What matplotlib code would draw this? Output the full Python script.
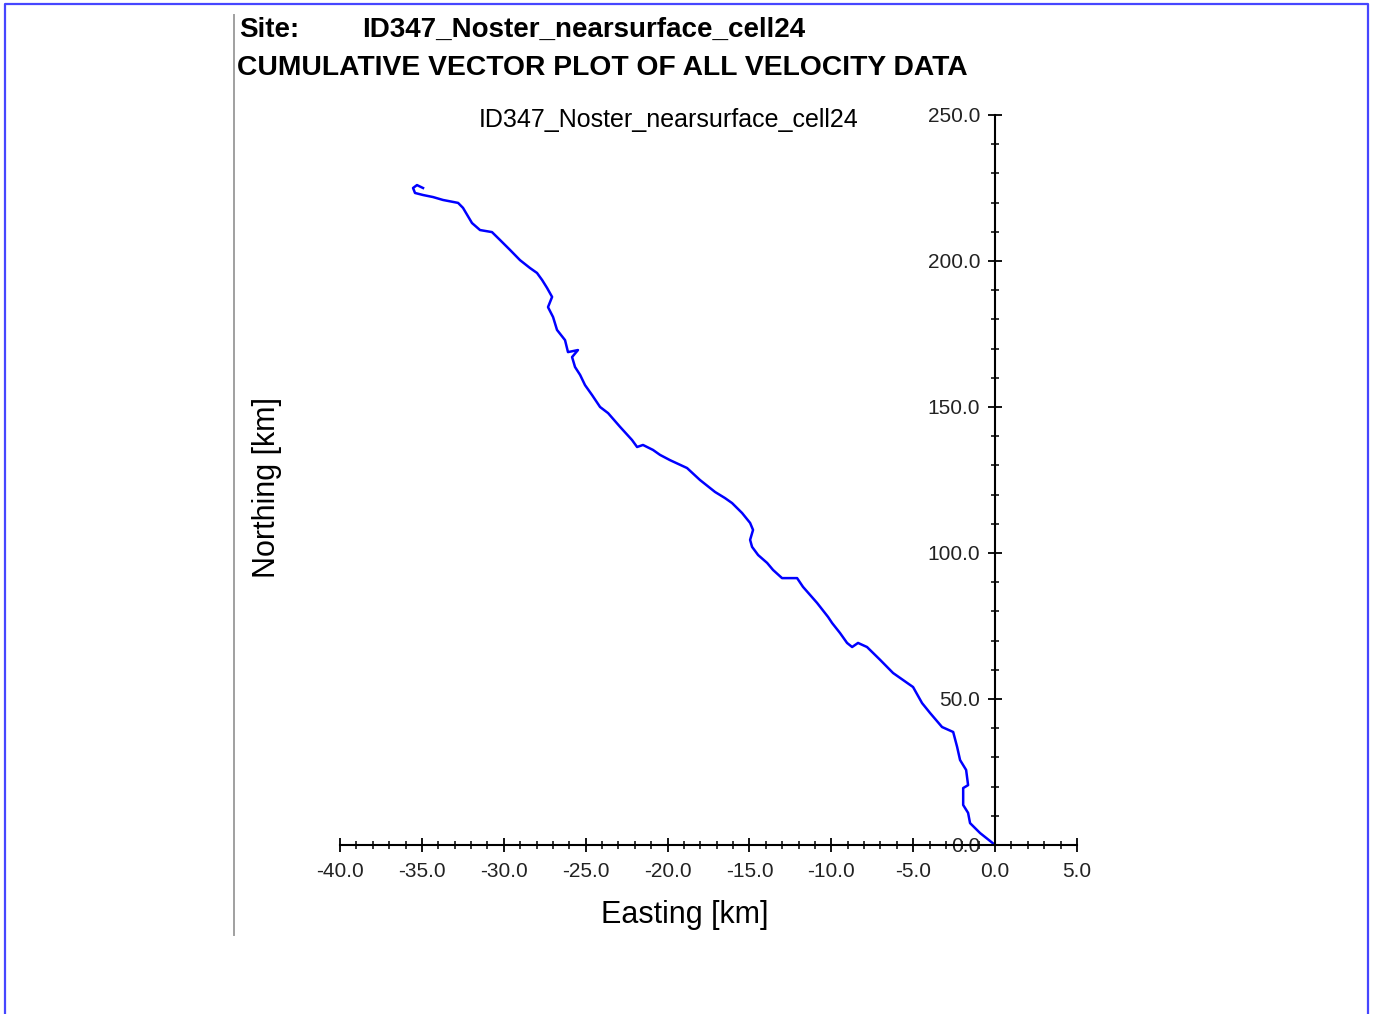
import matplotlib
matplotlib.use("Agg")
import matplotlib.pyplot as plt
from matplotlib.lines import Line2D
from matplotlib.ticker import MultipleLocator, FormatStrFormatter

plt.rcParams['font.family'] = ['Liberation Sans', 'DejaVu Sans']

site_name = "ID347_Noster_nearsurface_cell24"
plot_title = "CUMULATIVE VECTOR PLOT OF ALL VELOCITY DATA"

# cumulative displacement path (km)
east_km = [0.0, -0.92, -1.53, -1.65, -1.95, -1.95, -1.65, -1.77, -2.14, -2.32,
           -2.56, -3.24, -3.97, -4.46, -5.01, -6.23, -7.02, -7.82, -8.37, -8.73,
           -9.04, -9.47, -9.95, -10.20, -10.87, -11.73, -12.09, -12.64, -13.01, -13.56,
           -13.92, -14.47, -14.84, -14.96, -14.78, -14.96, -15.45, -16.06, -16.49, -17.10,
           -18.02, -18.81, -19.85, -20.46, -20.89, -21.50, -21.86, -22.17, -22.90, -23.63,
           -24.12, -24.61, -25.04, -25.34, -25.65, -25.83, -25.47, -26.08, -26.26, -26.75,
           -26.99, -27.30, -27.05, -27.36, -27.66, -27.97, -28.40, -29.01, -29.62, -30.23,
           -30.72, -31.45, -31.94, -32.49, -32.79, -33.71, -34.32, -34.93, -35.42, -35.54,
           -35.30, -34.93]
north_km = [0.0, 4.1, 7.5, 11.0, 13.7, 19.5, 20.5, 25.7, 29.1, 33.6,
            38.7, 40.4, 45.2, 48.6, 54.1, 58.9, 63.4, 67.8, 69.2, 67.8,
            69.2, 72.6, 76.0, 78.1, 82.9, 88.4, 91.4, 91.4, 91.4, 94.2,
            96.6, 99.3, 102.1, 104.5, 107.9, 110.3, 113.7, 117.1, 118.8, 120.9,
            125.0, 129.1, 131.8, 133.6, 135.3, 137.0, 136.3, 138.7, 143.2, 147.9,
            150.0, 154.1, 157.5, 161.0, 163.7, 167.1, 169.5, 168.8, 172.9, 176.4,
            180.8, 184.2, 187.7, 190.8, 193.5, 195.9, 197.6, 200.3, 203.8, 207.2,
            209.9, 210.6, 213.0, 218.2, 219.9, 220.9, 221.9, 222.6, 223.3, 225.0,
            226.0, 225.0]

W, H = 1378, 1014
fig = plt.figure(figsize=(W / 100, H / 100), dpi=100)
fig.patch.set_facecolor('white')

# page frame and left rule
fig.add_artist(Line2D([4.5 / W, 4.5 / W, 1368 / W, 1368 / W], [0, 1 - 4 / H, 1 - 4 / H, 0],
                      transform=fig.transFigure, color='#4646ff', lw=1.6))
fig.add_artist(Line2D([234 / W, 234 / W], [1 - 15 / H, 1 - 935 / H],
                      transform=fig.transFigure, color='#a0a0a0', lw=1.4))

# headings
fig.text(239 / W, 1 - 30 / H, "Site:", fontsize=20, fontweight='bold', va='center', ha='left')
fig.text(362 / W, 1 - 30 / H, site_name, fontsize=20, fontweight='bold', va='center', ha='left')
fig.text(237 / W, 1 - 68 / H, plot_title, fontsize=20.3, fontweight='bold', va='center', ha='left')

ax = fig.add_axes([340 / W, 1 - 845 / H, (1077 - 340) / W, (845 - 115) / H])
ax.plot(east_km, north_km, color='#0000ff', lw=1.8)

ax.set_xlim(-40, 5)
ax.set_ylim(0, 250)
ax.spines['top'].set_visible(False)
ax.spines['right'].set_visible(False)
ax.spines['left'].set_position(('data', 0))
for s in ['left', 'bottom']:
    ax.spines[s].set_linewidth(1.5)

ax.xaxis.set_major_locator(MultipleLocator(5))
ax.xaxis.set_minor_locator(MultipleLocator(1))
ax.yaxis.set_major_locator(MultipleLocator(50))
ax.yaxis.set_minor_locator(MultipleLocator(10))
ax.xaxis.set_major_formatter(FormatStrFormatter('%.1f'))
ax.yaxis.set_major_formatter(FormatStrFormatter('%.1f'))
ax.tick_params(which='major', direction='inout', length=9.5, width=1.3, labelsize=15, colors='black')
ax.tick_params(which='minor', direction='inout', length=5.5, width=1.1)
ax.tick_params(axis='x', which='major', pad=7.5)
ax.tick_params(axis='y', which='major', pad=6)
for lbl in ax.get_xticklabels() + ax.get_yticklabels():
    lbl.set_color('#222222')

ax.set_title(site_name, fontsize=18, pad=0, x=(669 - 340) / (1077 - 340), y=1 + (115 - 120) / 730,
             va='center')
fig.text(685 / W, 1 - 915 / H, "Easting [km]", fontsize=22, ha='center', va='center')
fig.text(267 / W, 1 - 487 / H, "Northing [km]", fontsize=22, ha='center', va='center', rotation=90)

fig.savefig("out.png", dpi=100, facecolor='white')
